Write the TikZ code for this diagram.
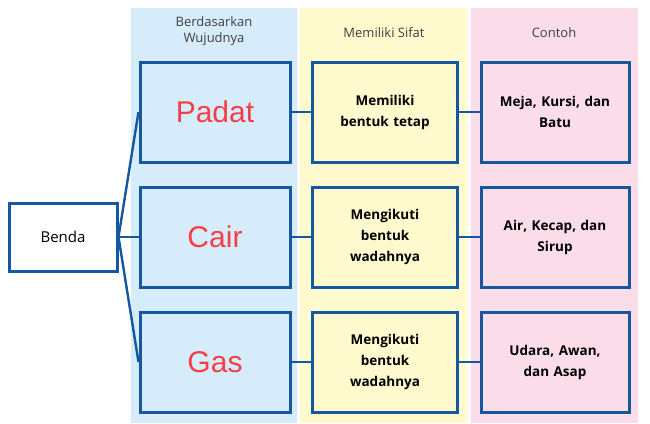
\documentclass[tikz,border=0pt]{standalone}
\usepackage{fontspec}
\setmainfont{Open Sans}
\newfontfamily\wujudfont{Liberation Sans}
\definecolor{colblue}{RGB}{214,236,250}
\definecolor{colyellow}{RGB}{255,250,205}
\definecolor{colpink}{RGB}{250,221,233}
\definecolor{colline}{RGB}{22,88,160}
\definecolor{colred}{RGB}{245,62,72}
\tikzset{
  kotak/.style={draw=colline, line width=3pt, minimum width=150pt, minimum height=100pt, align=center},
  isi/.style={kotak, minimum width=145pt, font=\bfseries\fontsize{13.5pt}{21pt}\selectfont, text width=130pt},
  wujud/.style={font=\wujudfont\fontsize{30pt}{30pt}\selectfont, text=colred},
  judul/.style={font=\fontsize{13pt}{16pt}\selectfont, text=black!75, align=center},
  garis/.style={draw=colline, line width=2.4pt}
}
\begin{document}
\begin{tikzpicture}[x=1pt,y=-1pt]
\useasboundingbox (0,0) rectangle (650,423);
% kolom latar
\fill[colblue] (131,8) rectangle (297,423);
\fill[colyellow] (300,8) rectangle (467,423);
\fill[colpink] (471,8) rectangle (638,423);
\node[judul] (h1) at (214,31) {Berdasarkan\\Wujudnya};
\node[judul] (h2) at (384,33) {Memiliki Sifat};
\node[judul] (h3) at (554,33) {Contoh};
% benda
\node[kotak, minimum width=108pt, minimum height=68pt, fill=white, font=\fontsize{15pt}{17pt}\selectfont] (benda) at (63,237) {Benda};
% wujud
\node[kotak] (padat) at (215,112) {};
\node[kotak] (cair) at (215,237) {};
\node[kotak] (gas) at (215,362) {};
\node[wujud] at (padat) {Padat};
\node[wujud] at (cair) {Cair};
\node[wujud] at (gas) {Gas};
% sifat
\node[isi] (s1) at (385,112) {Memiliki\\bentuk tetap};
\node[isi] (s2) at (385,237) {Mengikuti\\bentuk\\wadahnya};
\node[isi] (s3) at (385,362) {Mengikuti\\bentuk\\wadahnya};
% contoh
\node[isi, minimum width=148pt] (c1) at (555,112) {Meja, Kursi, dan\\Batu};
\node[isi, minimum width=148pt] (c2) at (555,237) {Air, Kecap, dan\\Sirup};
\node[isi, minimum width=148pt] (c3) at (555,362) {Udara, Awan,\\dan Asap};
% garis
\foreach \w/\s/\c in {padat/s1/c1, cair/s2/c2, gas/s3/c3} {
  \draw[garis] (benda.east) -- (\w.west);
  \draw[garis] (\w.east) -- (\s.west);
  \draw[garis] (\s.east) -- (\c.west);
}
\end{tikzpicture}
\end{document}
